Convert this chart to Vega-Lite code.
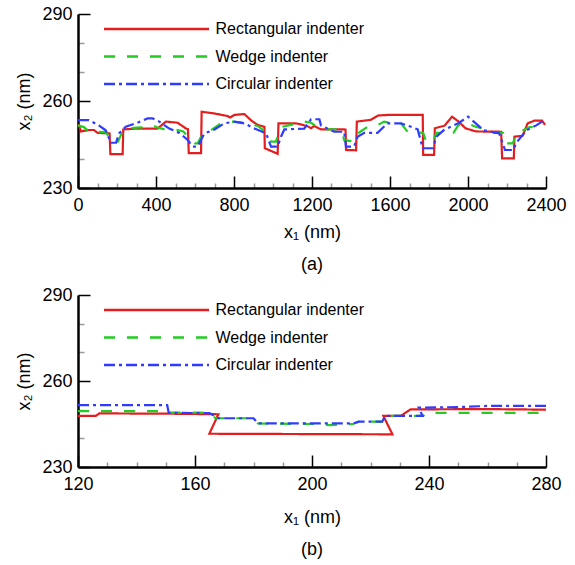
{
  "$schema": "https://vega.github.io/schema/vega-lite/v6.json",
  "background": "white",
  "padding": {"left": 15, "top": 5, "right": 20, "bottom": 5},
  "config": {
    "font": "Liberation Sans",
    "view": {"stroke": null},
    "axis": {
      "grid": false,
      "domainColor": "black",
      "domainWidth": 2.5,
      "labelFont": "Liberation Sans",
      "titleFont": "Liberation Sans",
      "labelFontSize": 18,
      "titleFontSize": 18,
      "titleFontWeight": "normal",
      "labelColor": "black",
      "titleColor": "black",
      "tickWidth": 1.5
    },
    "legend": {
      "labelFont": "Liberation Sans",
      "labelFontSize": 16,
      "labelColor": "black",
      "orient": "none",
      "legendX": 70.5,
      "legendY": 7,
      "title": null,
      "symbolType": "M-10.5,0H10.5",
      "symbolSize": 100,
      "symbolStrokeWidth": 2.5,
      "labelOffset": 51,
      "rowPadding": 11.5
    },
    "title": {"font": "Liberation Sans", "fontSize": 18, "fontWeight": "normal", "color": "black"}
  },
  "datasets": {
    "a": [
      {"s": "Rectangular indenter", "x": 0, "y": 252}, {"s": "Rectangular indenter", "x": 8, "y": 251}, {"s": "Rectangular indenter", "x": 15, "y": 249.5}, {"s": "Rectangular indenter", "x": 60, "y": 250}, {"s": "Rectangular indenter", "x": 82, "y": 250}, {"s": "Rectangular indenter", "x": 100, "y": 249}, {"s": "Rectangular indenter", "x": 150, "y": 248.9}, {"s": "Rectangular indenter", "x": 162, "y": 248.8}, {"s": "Rectangular indenter", "x": 166, "y": 241.7}, {"s": "Rectangular indenter", "x": 229, "y": 241.7}, {"s": "Rectangular indenter", "x": 232, "y": 250.2}, {"s": "Rectangular indenter", "x": 300, "y": 250.5}, {"s": "Rectangular indenter", "x": 408, "y": 250.5}, {"s": "Rectangular indenter", "x": 451, "y": 252.9}, {"s": "Rectangular indenter", "x": 511, "y": 252.5}, {"s": "Rectangular indenter", "x": 554, "y": 250.5}, {"s": "Rectangular indenter", "x": 564, "y": 250.3}, {"s": "Rectangular indenter", "x": 568, "y": 242}, {"s": "Rectangular indenter", "x": 631, "y": 242}, {"s": "Rectangular indenter", "x": 634, "y": 256.3}, {"s": "Rectangular indenter", "x": 700, "y": 255.7}, {"s": "Rectangular indenter", "x": 768, "y": 254.8}, {"s": "Rectangular indenter", "x": 780, "y": 254.3}, {"s": "Rectangular indenter", "x": 802, "y": 255.2}, {"s": "Rectangular indenter", "x": 853, "y": 255.5}, {"s": "Rectangular indenter", "x": 888, "y": 253.3}, {"s": "Rectangular indenter", "x": 920, "y": 251.8}, {"s": "Rectangular indenter", "x": 956, "y": 251.1}, {"s": "Rectangular indenter", "x": 958, "y": 243.7}, {"s": "Rectangular indenter", "x": 1024, "y": 241.8}, {"s": "Rectangular indenter", "x": 1028, "y": 252.3}, {"s": "Rectangular indenter", "x": 1118, "y": 252.3}, {"s": "Rectangular indenter", "x": 1150, "y": 251.8}, {"s": "Rectangular indenter", "x": 1180, "y": 251.2}, {"s": "Rectangular indenter", "x": 1195, "y": 250.6}, {"s": "Rectangular indenter", "x": 1210, "y": 251.4}, {"s": "Rectangular indenter", "x": 1246, "y": 250.2}, {"s": "Rectangular indenter", "x": 1365, "y": 250.2}, {"s": "Rectangular indenter", "x": 1372, "y": 250.1}, {"s": "Rectangular indenter", "x": 1375, "y": 243.1}, {"s": "Rectangular indenter", "x": 1426, "y": 243}, {"s": "Rectangular indenter", "x": 1430, "y": 252.9}, {"s": "Rectangular indenter", "x": 1500, "y": 253.5}, {"s": "Rectangular indenter", "x": 1540, "y": 255}, {"s": "Rectangular indenter", "x": 1590, "y": 255.2}, {"s": "Rectangular indenter", "x": 1768, "y": 255.2}, {"s": "Rectangular indenter", "x": 1770, "y": 241.4}, {"s": "Rectangular indenter", "x": 1826, "y": 241.4}, {"s": "Rectangular indenter", "x": 1830, "y": 250.6}, {"s": "Rectangular indenter", "x": 1880, "y": 251.5}, {"s": "Rectangular indenter", "x": 1918, "y": 254.6}, {"s": "Rectangular indenter", "x": 1952, "y": 252.9}, {"s": "Rectangular indenter", "x": 1987, "y": 250.6}, {"s": "Rectangular indenter", "x": 2040, "y": 249.5}, {"s": "Rectangular indenter", "x": 2170, "y": 249.4}, {"s": "Rectangular indenter", "x": 2175, "y": 240.2}, {"s": "Rectangular indenter", "x": 2235, "y": 240.2}, {"s": "Rectangular indenter", "x": 2238, "y": 247.7}, {"s": "Rectangular indenter", "x": 2280, "y": 248}, {"s": "Rectangular indenter", "x": 2306, "y": 252.3}, {"s": "Rectangular indenter", "x": 2340, "y": 253.2}, {"s": "Rectangular indenter", "x": 2380, "y": 253.2}, {"s": "Rectangular indenter", "x": 2395, "y": 251.8},
      {"s": "Wedge indenter", "x": 0, "y": 251.6}, {"s": "Wedge indenter", "x": 30, "y": 251}, {"s": "Wedge indenter", "x": 56, "y": 249.4}, {"s": "Wedge indenter", "x": 142, "y": 249.3}, {"s": "Wedge indenter", "x": 160, "y": 247.5}, {"s": "Wedge indenter", "x": 175, "y": 246}, {"s": "Wedge indenter", "x": 205, "y": 246}, {"s": "Wedge indenter", "x": 225, "y": 249}, {"s": "Wedge indenter", "x": 237, "y": 250.5}, {"s": "Wedge indenter", "x": 300, "y": 250.8}, {"s": "Wedge indenter", "x": 360, "y": 251}, {"s": "Wedge indenter", "x": 383, "y": 251.6}, {"s": "Wedge indenter", "x": 410, "y": 250.8}, {"s": "Wedge indenter", "x": 440, "y": 250.3}, {"s": "Wedge indenter", "x": 500, "y": 250.2}, {"s": "Wedge indenter", "x": 540, "y": 249.5}, {"s": "Wedge indenter", "x": 580, "y": 246.6}, {"s": "Wedge indenter", "x": 600, "y": 245.4}, {"s": "Wedge indenter", "x": 614, "y": 245.4}, {"s": "Wedge indenter", "x": 630, "y": 247.5}, {"s": "Wedge indenter", "x": 648, "y": 248.8}, {"s": "Wedge indenter", "x": 690, "y": 250.3}, {"s": "Wedge indenter", "x": 733, "y": 252.3}, {"s": "Wedge indenter", "x": 785, "y": 252.9}, {"s": "Wedge indenter", "x": 853, "y": 252.5}, {"s": "Wedge indenter", "x": 922, "y": 251.4}, {"s": "Wedge indenter", "x": 960, "y": 249.5}, {"s": "Wedge indenter", "x": 972, "y": 247.7}, {"s": "Wedge indenter", "x": 990, "y": 246}, {"s": "Wedge indenter", "x": 1015, "y": 246}, {"s": "Wedge indenter", "x": 1030, "y": 249}, {"s": "Wedge indenter", "x": 1041, "y": 251}, {"s": "Wedge indenter", "x": 1127, "y": 252.3}, {"s": "Wedge indenter", "x": 1162, "y": 252.9}, {"s": "Wedge indenter", "x": 1195, "y": 252.5}, {"s": "Wedge indenter", "x": 1246, "y": 250.2}, {"s": "Wedge indenter", "x": 1350, "y": 250.2}, {"s": "Wedge indenter", "x": 1365, "y": 246.5}, {"s": "Wedge indenter", "x": 1416, "y": 246}, {"s": "Wedge indenter", "x": 1434, "y": 248.8}, {"s": "Wedge indenter", "x": 1485, "y": 251.1}, {"s": "Wedge indenter", "x": 1520, "y": 251.1}, {"s": "Wedge indenter", "x": 1570, "y": 252.9}, {"s": "Wedge indenter", "x": 1613, "y": 252.3}, {"s": "Wedge indenter", "x": 1656, "y": 252.3}, {"s": "Wedge indenter", "x": 1690, "y": 249.4}, {"s": "Wedge indenter", "x": 1770, "y": 249}, {"s": "Wedge indenter", "x": 1785, "y": 246}, {"s": "Wedge indenter", "x": 1820, "y": 246}, {"s": "Wedge indenter", "x": 1838, "y": 249}, {"s": "Wedge indenter", "x": 1925, "y": 249}, {"s": "Wedge indenter", "x": 1950, "y": 251.6}, {"s": "Wedge indenter", "x": 1987, "y": 252.5}, {"s": "Wedge indenter", "x": 2040, "y": 251.1}, {"s": "Wedge indenter", "x": 2070, "y": 250.6}, {"s": "Wedge indenter", "x": 2125, "y": 249}, {"s": "Wedge indenter", "x": 2180, "y": 249}, {"s": "Wedge indenter", "x": 2190, "y": 245.4}, {"s": "Wedge indenter", "x": 2230, "y": 245.4}, {"s": "Wedge indenter", "x": 2248, "y": 248.8}, {"s": "Wedge indenter", "x": 2316, "y": 251}, {"s": "Wedge indenter", "x": 2385, "y": 251.1},
      {"s": "Circular indenter", "x": 0, "y": 253.4}, {"s": "Circular indenter", "x": 56, "y": 253.4}, {"s": "Circular indenter", "x": 107, "y": 251.6}, {"s": "Circular indenter", "x": 142, "y": 249.9}, {"s": "Circular indenter", "x": 160, "y": 247}, {"s": "Circular indenter", "x": 168, "y": 245.6}, {"s": "Circular indenter", "x": 195, "y": 245.6}, {"s": "Circular indenter", "x": 210, "y": 248.8}, {"s": "Circular indenter", "x": 245, "y": 251.1}, {"s": "Circular indenter", "x": 297, "y": 252.3}, {"s": "Circular indenter", "x": 357, "y": 254}, {"s": "Circular indenter", "x": 383, "y": 254}, {"s": "Circular indenter", "x": 417, "y": 252.9}, {"s": "Circular indenter", "x": 468, "y": 250.5}, {"s": "Circular indenter", "x": 520, "y": 249}, {"s": "Circular indenter", "x": 562, "y": 246.6}, {"s": "Circular indenter", "x": 588, "y": 244.3}, {"s": "Circular indenter", "x": 614, "y": 244.3}, {"s": "Circular indenter", "x": 630, "y": 246.5}, {"s": "Circular indenter", "x": 648, "y": 248.8}, {"s": "Circular indenter", "x": 700, "y": 250.2}, {"s": "Circular indenter", "x": 751, "y": 252.3}, {"s": "Circular indenter", "x": 802, "y": 252.9}, {"s": "Circular indenter", "x": 853, "y": 252.3}, {"s": "Circular indenter", "x": 905, "y": 250.5}, {"s": "Circular indenter", "x": 965, "y": 248.8}, {"s": "Circular indenter", "x": 980, "y": 246}, {"s": "Circular indenter", "x": 990, "y": 244.3}, {"s": "Circular indenter", "x": 1024, "y": 244.3}, {"s": "Circular indenter", "x": 1041, "y": 247.7}, {"s": "Circular indenter", "x": 1058, "y": 250.2}, {"s": "Circular indenter", "x": 1160, "y": 250.5}, {"s": "Circular indenter", "x": 1195, "y": 253.7}, {"s": "Circular indenter", "x": 1238, "y": 253.7}, {"s": "Circular indenter", "x": 1246, "y": 251.6}, {"s": "Circular indenter", "x": 1314, "y": 249.4}, {"s": "Circular indenter", "x": 1365, "y": 249.4}, {"s": "Circular indenter", "x": 1374, "y": 244.3}, {"s": "Circular indenter", "x": 1416, "y": 244.3}, {"s": "Circular indenter", "x": 1434, "y": 247.7}, {"s": "Circular indenter", "x": 1468, "y": 249}, {"s": "Circular indenter", "x": 1536, "y": 249}, {"s": "Circular indenter", "x": 1587, "y": 252.3}, {"s": "Circular indenter", "x": 1656, "y": 252.3}, {"s": "Circular indenter", "x": 1708, "y": 251.1}, {"s": "Circular indenter", "x": 1742, "y": 250.2}, {"s": "Circular indenter", "x": 1768, "y": 243.7}, {"s": "Circular indenter", "x": 1820, "y": 243.7}, {"s": "Circular indenter", "x": 1838, "y": 247.7}, {"s": "Circular indenter", "x": 1880, "y": 250.2}, {"s": "Circular indenter", "x": 1950, "y": 252.3}, {"s": "Circular indenter", "x": 2000, "y": 254.6}, {"s": "Circular indenter", "x": 2040, "y": 252.3}, {"s": "Circular indenter", "x": 2080, "y": 249.9}, {"s": "Circular indenter", "x": 2160, "y": 248.8}, {"s": "Circular indenter", "x": 2190, "y": 243.1}, {"s": "Circular indenter", "x": 2232, "y": 243.1}, {"s": "Circular indenter", "x": 2248, "y": 245.6}, {"s": "Circular indenter", "x": 2300, "y": 249.9}, {"s": "Circular indenter", "x": 2350, "y": 251.6}, {"s": "Circular indenter", "x": 2390, "y": 253.4}
    ],
    "b": [
      {"s": "Rectangular indenter", "i": 1, "x": 120, "y": 247.8}, {"s": "Rectangular indenter", "i": 2, "x": 126, "y": 247.8}, {"s": "Rectangular indenter", "i": 3, "x": 127.3, "y": 248.7}, {"s": "Rectangular indenter", "i": 4, "x": 150, "y": 248.6}, {"s": "Rectangular indenter", "i": 5, "x": 168, "y": 248.4}, {"s": "Rectangular indenter", "i": 6, "x": 164.9, "y": 241.6}, {"s": "Rectangular indenter", "i": 7, "x": 227.5, "y": 241.4}, {"s": "Rectangular indenter", "i": 8, "x": 224.4, "y": 247.8}, {"s": "Rectangular indenter", "i": 9, "x": 230.3, "y": 247.8}, {"s": "Rectangular indenter", "i": 10, "x": 233.7, "y": 250.1}, {"s": "Rectangular indenter", "i": 11, "x": 260, "y": 250.2}, {"s": "Rectangular indenter", "i": 12, "x": 280, "y": 250},
      {"s": "Wedge indenter", "i": 1, "x": 120, "y": 249.5}, {"s": "Wedge indenter", "i": 2, "x": 150, "y": 249.5}, {"s": "Wedge indenter", "i": 3, "x": 151, "y": 249}, {"s": "Wedge indenter", "i": 4, "x": 165, "y": 249}, {"s": "Wedge indenter", "i": 5, "x": 167, "y": 247}, {"s": "Wedge indenter", "i": 6, "x": 180, "y": 247}, {"s": "Wedge indenter", "i": 7, "x": 181.5, "y": 245.2}, {"s": "Wedge indenter", "i": 8, "x": 200, "y": 245}, {"s": "Wedge indenter", "i": 9, "x": 206, "y": 244.6}, {"s": "Wedge indenter", "i": 10, "x": 214, "y": 245}, {"s": "Wedge indenter", "i": 11, "x": 216, "y": 245.8}, {"s": "Wedge indenter", "i": 12, "x": 224, "y": 245.8}, {"s": "Wedge indenter", "i": 13, "x": 225, "y": 247.8}, {"s": "Wedge indenter", "i": 14, "x": 238, "y": 247.8}, {"s": "Wedge indenter", "i": 15, "x": 239, "y": 248.9}, {"s": "Wedge indenter", "i": 16, "x": 280, "y": 248.9},
      {"s": "Circular indenter", "i": 1, "x": 120, "y": 251.6}, {"s": "Circular indenter", "i": 2, "x": 150.5, "y": 251.6}, {"s": "Circular indenter", "i": 3, "x": 151, "y": 248.9}, {"s": "Circular indenter", "i": 4, "x": 165, "y": 248.8}, {"s": "Circular indenter", "i": 5, "x": 168, "y": 247}, {"s": "Circular indenter", "i": 6, "x": 180, "y": 247}, {"s": "Circular indenter", "i": 7, "x": 181.5, "y": 245.2}, {"s": "Circular indenter", "i": 8, "x": 214, "y": 245.2}, {"s": "Circular indenter", "i": 9, "x": 216, "y": 245.8}, {"s": "Circular indenter", "i": 10, "x": 224, "y": 245.8}, {"s": "Circular indenter", "i": 11, "x": 225, "y": 247.8}, {"s": "Circular indenter", "i": 12, "x": 237.8, "y": 247.8}, {"s": "Circular indenter", "i": 13, "x": 236.5, "y": 250.7}, {"s": "Circular indenter", "i": 14, "x": 250, "y": 250.9}, {"s": "Circular indenter", "i": 15, "x": 260, "y": 251.3}, {"s": "Circular indenter", "i": 16, "x": 280, "y": 251.3}
    ]
  },
  "vconcat": [
    {
      "width": 468,
      "height": 174,
      "title": {"text": "(a)", "orient": "bottom", "offset": 15},
      "data": {"name": "a"},
      "mark": {"type": "line", "strokeWidth": 2.2},
      "encoding": {
        "x": {
          "field": "x", "type": "quantitative",
          "scale": {"domain": [0, 2400], "nice": false},
          "axis": {
            "title": "x₁ (nm)",
            "values": [0, 100, 200, 300, 400, 500, 600, 700, 800, 900, 1000, 1100, 1200, 1300, 1400, 1500, 1600, 1700, 1800, 1900, 2000, 2100, 2200, 2300, 2400],
            "format": "d",
            "labelExpr": "datum.value % 400 === 0 ? datum.label : ''",
            "tickSize": {"condition": {"test": "datum.value % 400 === 0", "value": -12}, "value": -5},
            "tickColor": {"condition": {"test": "datum.value % 400 === 0", "value": "black"}, "value": "#999999"},
            "labelPadding": 20,
            "labelFlush": false,
            "titlePadding": 9
          }
        },
        "y": {
          "field": "y", "type": "quantitative",
          "scale": {"domain": [230, 290], "nice": false, "zero": false},
          "axis": {
            "title": "x₂ (nm)",
            "values": [230, 240, 250, 260, 270, 280, 290],
            "labelExpr": "(datum.value - 230) % 30 === 0 ? datum.label : ''",
            "tickSize": {"condition": {"test": "(datum.value - 230) % 30 === 0", "value": -12}, "value": -6},
            "tickColor": {"condition": {"test": "(datum.value - 230) % 30 === 0", "value": "black"}, "value": "#999999"},
            "labelPadding": 18,
            "labelFlush": false,
            "titlePadding": 8
          }
        },
        "color": {
          "field": "s", "type": "nominal",
          "scale": {"domain": ["Rectangular indenter", "Wedge indenter", "Circular indenter"], "range": ["#e41e1e", "#22cc22", "#2f3cff"]}
        },
        "strokeDash": {
          "field": "s", "type": "nominal",
          "scale": {"domain": ["Rectangular indenter", "Wedge indenter", "Circular indenter"], "range": [[1, 0], [11, 12], [11, 4, 3, 4]]}
        }
      }
    },
    {
      "width": 468,
      "height": 172,
      "title": {"text": "(b)", "orient": "bottom", "offset": 15},
      "data": {"name": "b"},
      "mark": {"type": "line", "strokeWidth": 2.2},
      "encoding": {
        "x": {
          "field": "x", "type": "quantitative",
          "scale": {"domain": [120, 280], "nice": false, "zero": false},
          "axis": {
            "title": "x₁ (nm)",
            "values": [120, 130, 140, 150, 160, 170, 180, 190, 200, 210, 220, 230, 240, 250, 260, 270, 280],
            "format": "d",
            "labelExpr": "datum.value % 40 === 0 ? datum.label : ''",
            "tickSize": {"condition": {"test": "datum.value % 40 === 0", "value": -12}, "value": -5},
            "tickColor": {"condition": {"test": "datum.value % 40 === 0", "value": "black"}, "value": "#999999"},
            "labelPadding": 20,
            "labelFlush": false,
            "titlePadding": 15
          }
        },
        "y": {
          "field": "y", "type": "quantitative",
          "scale": {"domain": [230, 290], "nice": false, "zero": false},
          "axis": {
            "title": "x₂ (nm)",
            "values": [230, 240, 250, 260, 270, 280, 290],
            "labelExpr": "(datum.value - 230) % 30 === 0 ? datum.label : ''",
            "tickSize": {"condition": {"test": "(datum.value - 230) % 30 === 0", "value": -12}, "value": -6},
            "tickColor": {"condition": {"test": "(datum.value - 230) % 30 === 0", "value": "black"}, "value": "#999999"},
            "labelPadding": 18,
            "labelFlush": false,
            "titlePadding": 8
          }
        },
        "color": {
          "field": "s", "type": "nominal",
          "scale": {"domain": ["Rectangular indenter", "Wedge indenter", "Circular indenter"], "range": ["#e41e1e", "#22cc22", "#2f3cff"]}
        },
        "strokeDash": {
          "field": "s", "type": "nominal",
          "scale": {"domain": ["Rectangular indenter", "Wedge indenter", "Circular indenter"], "range": [[1, 0], [11, 12], [11, 4, 3, 4]]}
        },
        "order": {"field": "i", "type": "quantitative"}
      }
    }
  ],
  "spacing": 12,
  "resolve": {
    "scale": {"x": "independent", "y": "independent", "color": "independent", "strokeDash": "independent"},
    "legend": {"color": "independent", "strokeDash": "independent"}
  }
}
